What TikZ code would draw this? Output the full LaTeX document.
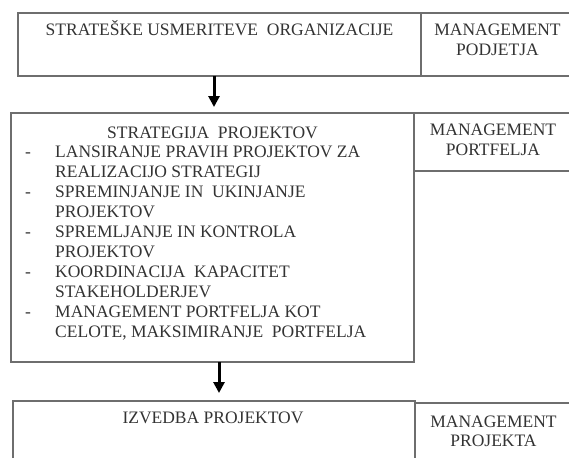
\documentclass[tikz,border=0pt]{standalone}
\usepackage{fontspec}
\setmainfont{Liberation Serif}
\usetikzlibrary{arrows.meta}
\definecolor{linegray}{HTML}{6E6E6E}
\definecolor{textgray}{HTML}{333333}
\begin{document}
\begin{tikzpicture}[x=1pt,y=-1pt,
  boxshape/.style={inner sep=0pt, outer sep=0pt, anchor=north west},
  frame/.style={boxshape, draw=linegray, line width=1.1pt},
  rule/.style={draw=linegray, line width=1.1pt},
  txt/.style={text=textgray, font=\fontsize{17.5}{20}\selectfont, inner sep=0pt, anchor=base},
  ltxt/.style={txt, anchor=base west},
  flow/.style={draw=black, line width=3pt, -{Triangle[length=11pt,width=11pt]}}]
\useasboundingbox (0,0) rectangle (569,458);

% level 1
\node[frame, minimum width=403pt, minimum height=63pt] (b1) at (18,13) {};
\node[boxshape, minimum width=148pt, minimum height=63pt] (r1) at (421,13) {};
\draw[rule] (r1.north west) -- (r1.north east);
\draw[rule] (r1.south west) -- (r1.south east);
\node[txt] (t1) at (219.5,35) {STRATEŠKE USMERITEVE\ \ ORGANIZACIJE};
\node[txt] (m1a) at (497.5,35) {MANAGEMENT};
\node[txt] (m1b) at (497.5,55) {PODJETJA};

% level 2
\node[frame, minimum width=403pt, minimum height=249pt] (b2) at (11,113) {};
\node[boxshape, minimum width=155pt, minimum height=58pt] (r2) at (414,113) {};
\draw[rule] (r2.north west) -- (r2.north east);
\draw[rule] (r2.south west) -- (r2.south east);
\node[txt] (t2) at (212.5,138.5) {STRATEGIJA\ \ PROJEKTOV};
\node[txt] (d1) at (28,157.5) {-};
\node[ltxt] (l1) at (55,157.5) {LANSIRANJE PRAVIH PROJEKTOV ZA};
\node[ltxt] (l2) at (55,177.5) {REALIZACIJO STRATEGIJ};
\node[txt] (d2) at (28,197.5) {-};
\node[ltxt] (l3) at (55,197.5) {SPREMINJANJE IN\ \ UKINJANJE};
\node[ltxt] (l4) at (55,217.5) {PROJEKTOV};
\node[txt] (d3) at (28,237.5) {-};
\node[ltxt] (l5) at (55,237.5) {SPREMLJANJE IN KONTROLA};
\node[ltxt] (l6) at (55,257.5) {PROJEKTOV};
\node[txt] (d4) at (28,277.5) {-};
\node[ltxt] (l7) at (55,277.5) {KOORDINACIJA\ \ KAPACITET};
\node[ltxt] (l8) at (55,297.5) {STAKEHOLDERJEV};
\node[txt] (d5) at (28,317.5) {-};
\node[ltxt] (l9) at (55,317.5) {MANAGEMENT PORTFELJA KOT};
\node[ltxt] (l10) at (55,337.5) {CELOTE, MAKSIMIRANJE\ \ PORTFELJA};
\node[txt] (m2a) at (493,135) {MANAGEMENT};
\node[txt] (m2b) at (493,155) {PORTFELJA};

% level 3
\node[boxshape, minimum width=402pt, minimum height=57pt] (b3) at (13,401) {};
\draw[rule] (b3.south west) -- (b3.north west) -- (b3.north east) -- (b3.south east);
\node[boxshape, minimum width=154pt, minimum height=55pt] (r3) at (415,403) {};
\draw[rule] (r3.north west) -- (r3.north east);
\node[txt] (t3) at (213,423) {IZVEDBA PROJEKTOV};
\node[txt] (m3a) at (493.5,427) {MANAGEMENT};
\node[txt] (m3b) at (493.5,446) {PROJEKTA};

% connectors
\coordinate (a1x) at (214,0);
\coordinate (a2x) at (219,0);
\draw[flow, shorten >=6pt] (b1.south -| a1x) -- (b2.north -| a1x);
\draw[flow, shorten >=8pt] (b2.south -| a2x) -- (b3.north -| a2x);
\end{tikzpicture}
\end{document}
